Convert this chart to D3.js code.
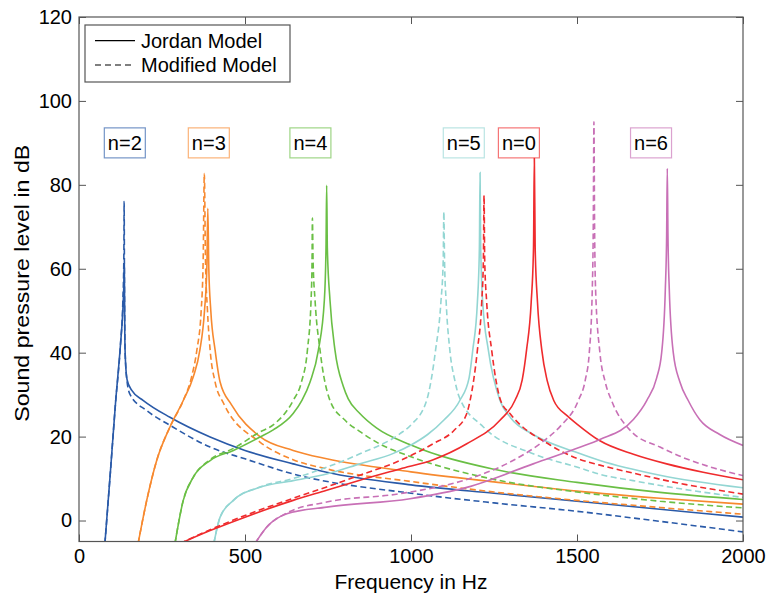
<!DOCTYPE html>
<html>
<head>
<meta charset="utf-8">
<script src="https://cdn.jsdelivr.net/npm/d3@7"></script>
<style>
  body { margin: 0; background: #fff; }
  svg { display: block; font-family: "Liberation Sans", Arial, sans-serif; }
</style>
</head>
<body>
<div id="graf"></div>
<script>
//// DATOS: [frecuencia en Hz, nivel en dB]
const n2Jordan = [[78,-5.5],[95,12],[110,28],[125,42],[132,50],[135,56],[136.5,61],[138,44],[140,38],[145,33.5],[159,31],[194,28.6],[274,24.6],[395,19.9],[500,16.7],[645,13.5],[746,11.5],[1000,8.5],[1250,6.5],[1500,4.6],[1750,2.7],[2000,0.8]]
const n2Modified = [[78,-5.5],[95,12],[110,28],[125,42],[132,52],[135,62],[136,76],[137,55],[139,40],[145,33],[154,30],[204,26.2],[274,22.7],[395,17.5],[500,14.7],[645,11.1],[1000,6.5],[1250,4.2],[1500,2.2],[1750,-0.2],[2000,-2.7]]

const n3Jordan = [[178,-5.5],[204,4.8],[234,14.3],[274,22.3],[314,28.6],[344,34.2],[364,40.6],[378,50],[385,60],[388,74.4],[391,60],[397,50],[410,40.6],[425,33],[460,27.5],[545,20],[645,16.7],[746,14.7],[1000,11.6],[1250,9.2],[1500,7.0],[1750,5.3],[2000,3.9]]
const n3Modified = [[178,-5.5],[204,4.8],[234,14.3],[274,22.3],[314,28.6],[340,34.5],[355,40.6],[368,50],[374,62],[377.5,82.7],[381,62],[387,50],[395,40.6],[410,33],[435,28],[545,18.7],[645,14.5],[746,12.3],[1000,9.3],[1250,6.8],[1500,4.8],[1750,3.1],[2000,1.5]]

const n4Jordan = [[289,-5.5],[314,4.8],[344,10.3],[395,14.3],[465,16.7],[545,19.9],[585,21.6],[645,25.5],[671,28.6],[696,33],[721,40.6],[739,52.5],[744,65],[746,79.9],[748,65],[756,52.5],[771,40.6],[796,32],[811,29],[846,25.5],[897,22],[1000,18],[1250,12.2],[1500,9.1],[1750,6.7],[2000,5.0]]
const n4Modified = [[289,-5.5],[314,4.8],[344,10.3],[395,14.5],[465,17.2],[545,21.1],[585,22.8],[645,28.6],[670,33],[688,40.6],[699,52.5],[702,62],[703,72.1],[705,62],[711,52.5],[726,40.6],[756,28.6],[800,24],[850,21],[900,18.5],[1000,15.2],[1250,9.8],[1500,6.8],[1750,4.6],[2000,3.0]]

const n5Jordan = [[406,-5.5],[425,0.8],[465,4.8],[545,7.9],[645,9.5],[746,11.1],[846,13.5],[947,16.0],[1000,18],[1050,20.5],[1100,24],[1147,28.6],[1175,34],[1186,40.6],[1200,52],[1206,65],[1208,82.9],[1210,65],[1216,52],[1233,40.6],[1268,28.6],[1300,24.5],[1368,20.5],[1500,16.2],[1569,14.3],[1750,10.8],[2000,7.8]]
const n5Modified = [[406,-5.5],[425,0.8],[465,4.8],[545,8.0],[645,10],[746,12.7],[846,15.9],[967,20.7],[1000,22.8],[1047,28.6],[1074,40.6],[1090,52],[1097,62],[1099,73.6],[1101,62],[1106,52],[1117,40.6],[1132,33.4],[1145,29.5],[1218,22.3],[1368,15.9],[1502,12.7],[1569,11.0],[1669,9.5],[1800,7.7],[2000,5.5]]

const n0Jordan = [[304,-5.5],[395,-2.4],[500,0.8],[645,4.8],[746,7.2],[846,9.6],[967,12.3],[1067,14.5],[1168,18.3],[1268,23.9],[1313,28.6],[1335,33.5],[1348,40.6],[1362,52],[1369,65],[1371.5,86.7],[1374,65],[1381,52],[1394,40.6],[1410,33.4],[1430,28.6],[1470,25],[1500,23],[1569,19],[1670,15.8],[1770,13.5],[1880,11.5],[2000,9.7]]
const n0Modified = [[304,-5.5],[395,-2.2],[500,1.2],[645,5.3],[746,8.0],[846,10.8],[967,14.3],[1067,18.3],[1130,21.5],[1168,25.5],[1178,28.6],[1200,40.6],[1213,52],[1218,62],[1220,77.5],[1222,62],[1228,52],[1243,40.6],[1270,28.6],[1298,25.5],[1419,18],[1500,14.8],[1569,13.2],[1669,11.3],[1800,9],[2000,6.3]]

const n6Jordan = [[530,-5.5],[565,-1.6],[626,1.6],[746,3.2],[997,5.2],[1168,7.9],[1368,13.5],[1502,17.3],[1569,19.3],[1669,24],[1710,28.6],[1740,34],[1755,40],[1766,55],[1770,68],[1772,83.9],[1774,68],[1778,55],[1790,40],[1810,33],[1835,28.6],[1870,24],[1930,20.5],[2000,17.9]]
const n6Modified = [[530,-5.5],[565,-1.6],[626,1.8],[746,4.4],[967,6.4],[1168,9.8],[1300,14],[1400,19],[1450,22.5],[1504,28.6],[1525,33.5],[1537,40],[1546,55],[1549,70],[1551,95],[1553,70],[1556,55],[1569,40],[1585,33],[1604,28.6],[1660,21.5],[1750,17.5],[1820,15],[1900,12.8],[2000,10.7]]

//// ETIQUETAS DE MODOS
const modeNames = ['n=2', 'n=3', 'n=4', 'n=5', 'n=0', 'n=6']
const modeLabelFreq = [138, 391, 697, 1159, 1325, 1723]
const modeLabelDb = 90

//// EJES
const xTicks = [0, 500, 1000, 1500, 2000]
const yTicks = [0, 20, 40, 60, 80, 100, 120]
const legendNames = ['Jordan Model', 'Modified Model']

//// COLORES
const colores = ['#2a5aa8', '#f7892f', '#6abf45', '#93d6d3', '#ef2b2d', '#c870b6']

const series = [
  { jordan: n2Jordan, modified: n2Modified },
  { jordan: n3Jordan, modified: n3Modified },
  { jordan: n4Jordan, modified: n4Modified },
  { jordan: n5Jordan, modified: n5Modified },
  { jordan: n0Jordan, modified: n0Modified },
  { jordan: n6Jordan, modified: n6Modified }
]

////TAMAÑOS
const ancho_total = 769
const alto_total = 597
const margins = { top: 17, left: 79, right: 26, bottom: 55.5 }
const ancho = ancho_total - margins.left - margins.right
const alto = alto_total - margins.top - margins.bottom

const svg = d3.select('#graf').append('svg')
  .attr('width', ancho_total)
  .attr('height', alto_total)

const g = svg.append('g')
  .attr('transform', `translate(${margins.left}, ${margins.top})`)

////ESCALAS
const x = d3.scaleLinear().domain([0, 2000]).range([0, ancho])
const y = d3.scaleLinear().domain([-5, 120]).range([alto, 0])

svg.append('defs').append('clipPath').attr('id', 'clip')
  .append('rect').attr('width', ancho).attr('height', alto)

////LINEAS
const lineGen = d3.line()
  .x(d => x(d[0]))
  .y(d => y(d[1]))
  .curve(d3.curveMonotoneX)

const lineas = g.append('g').attr('clip-path', 'url(#clip)')

series.forEach((s, i) => {
  lineas.append('path')
    .attr('d', lineGen(s.jordan))
    .attr('fill', 'none')
    .attr('stroke', colores[i])
    .attr('stroke-width', 1.6)
  lineas.append('path')
    .attr('d', lineGen(s.modified))
    .attr('fill', 'none')
    .attr('stroke', colores[i])
    .attr('stroke-width', 1.6)
    .attr('stroke-dasharray', '6,3.5')
})

////EJES (ticks hacia adentro, como en MATLAB)
const axisColor = '#555'
const fmt = d3.format('d')

const xAxis = g.append('g').attr('transform', `translate(0, ${alto})`)
  .call(d3.axisBottom(x).tickValues(xTicks).tickFormat(fmt).tickSizeInner(-7).tickSizeOuter(0).tickPadding(7))
const xAxisTop = g.append('g')
  .call(d3.axisTop(x).tickValues(xTicks).tickSizeInner(-7).tickSizeOuter(0).tickFormat(''))
const yAxis = g.append('g')
  .call(d3.axisLeft(y).tickValues(yTicks).tickFormat(fmt).tickSizeInner(-7).tickSizeOuter(0).tickPadding(7))
const yAxisRight = g.append('g').attr('transform', `translate(${ancho}, 0)`)
  .call(d3.axisRight(y).tickValues(yTicks).tickSizeInner(-7).tickSizeOuter(0).tickFormat(''))

;[xAxis, xAxisTop, yAxis, yAxisRight].forEach(a => {
  a.select('.domain').remove()
  a.selectAll('line').attr('stroke', axisColor)
  a.selectAll('text').attr('font-size', 20).attr('fill', '#000')
    .attr('font-family', '"Liberation Sans", Arial, sans-serif')
})

g.append('rect')
  .attr('width', ancho)
  .attr('height', alto)
  .attr('fill', 'none')
  .attr('stroke', axisColor)
  .attr('stroke-width', 1.2)

////TITULOS DE EJES
svg.append('text')
  .attr('x', margins.left + ancho / 2)
  .attr('y', 589)
  .attr('text-anchor', 'middle')
  .attr('font-size', 21)
  .text('Frequency in Hz')

svg.append('text')
  .attr('transform', `translate(29, ${margins.top + alto / 2 + 4}) rotate(-90)`)
  .attr('text-anchor', 'middle')
  .attr('font-size', 21)
  .attr('textLength', 277)
  .attr('lengthAdjust', 'spacingAndGlyphs')
  .text('Sound pressure level in dB')

////ETIQUETAS n=...
const etiquetas = g.selectAll('.modo')
  .data(modeNames)
  .join('g')
  .attr('class', 'modo')
  .attr('transform', (d, i) => `translate(${x(modeLabelFreq[i])}, ${y(modeLabelDb)})`)

etiquetas.append('rect')
  .attr('x', -20.5).attr('y', -15)
  .attr('width', 41).attr('height', 30)
  .attr('fill', '#fff')
  .attr('stroke', (d, i) => colores[i])
  .attr('stroke-opacity', 0.65)
  .attr('stroke-width', 1.2)

etiquetas.append('text')
  .attr('text-anchor', 'middle')
  .attr('dy', '0.36em')
  .attr('font-size', 20)
  .text(d => d)

////LEYENDA
const leyenda = g.append('g').attr('transform', 'translate(6, 8)')
leyenda.append('rect')
  .attr('width', 205).attr('height', 57)
  .attr('fill', '#fff')
  .attr('stroke', axisColor)
  .attr('stroke-width', 1.2)

legendNames.forEach((name, i) => {
  const yy = 15.7 + i * 24.3
  leyenda.append('line')
    .attr('x1', 10).attr('x2', 50)
    .attr('y1', yy).attr('y2', yy)
    .attr('stroke', '#000')
    .attr('stroke-width', 1.2)
    .attr('stroke-dasharray', i === 1 ? '6,4' : null)
  leyenda.append('text')
    .attr('x', 56)
    .attr('y', yy)
    .attr('dy', '0.36em')
    .attr('font-size', 20)
    .text(name)
})
</script>
</body>
</html>
